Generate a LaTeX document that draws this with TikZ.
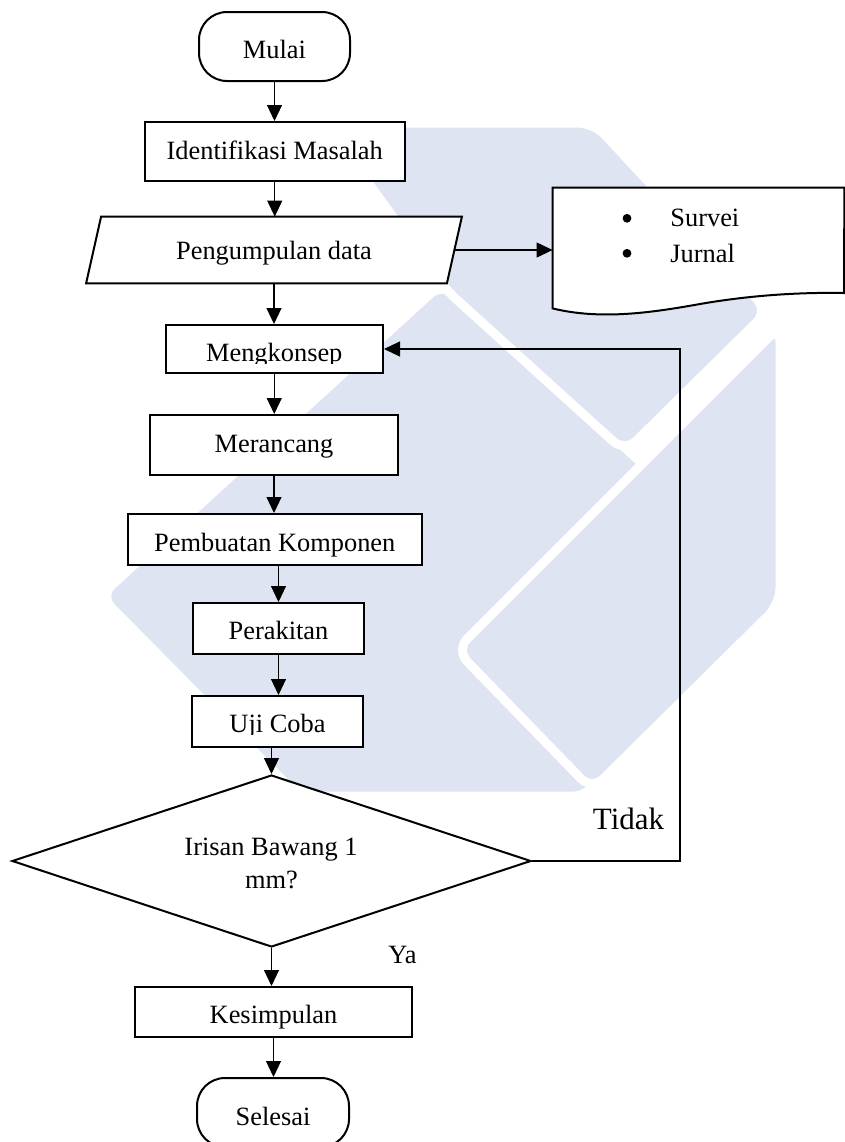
\documentclass[tikz,border=0pt]{standalone}
\usepackage{fontspec}
\setmainfont{Liberation Serif}
\usetikzlibrary{arrows.meta,shapes.geometric,calc}
\definecolor{wm}{RGB}{222,228,242}
\begin{document}
\begin{tikzpicture}[x=0.5pt,y=-0.5pt,
  box/.style={draw, line width=1pt, fill=white, inner sep=0pt, rectangle},
  term/.style={box, rounded corners=14pt},
  ghost/.style={inner sep=0pt, draw=none, rectangle},
  arr/.style={line width=0.55pt, -{Triangle[length=8pt,width=7.5pt]}},
  txt/.style={inner sep=0pt, font=\fontsize{13.2pt}{16pt}\selectfont, anchor=base},
  bigtxt/.style={inner sep=0pt, font=\fontsize{15.5pt}{18pt}\selectfont, anchor=base},
  bulletdot/.style={circle, fill=black, draw=none, inner sep=0pt, minimum size=4.4pt},
  face/.style={fill=wm, draw=white, line width=4.5pt, rounded corners=8pt, line join=round}]

\fill[white] (0,0) rectangle (845,1142);
\useasboundingbox (0,0) rectangle (845,1142);

% watermark
\path[face] (100,596) -- (442,283) -- (705,520) -- (590,796) -- (298,796) -- cycle;
\path[face] (325,123) -- (594,123) -- (768,311) -- (625,452) -- (445,289) -- cycle;
\path[face] (780,326) -- (780,604) -- (592,790) -- (456,650) -- cycle;

% nodes
\node[term, minimum width=75.5pt, minimum height=34.5pt] (mulai) at (274.5,46.5) {};
\node[txt] (tmulai) at (274.5,58.3) {Mulai};

\node[box, minimum width=130.25pt, minimum height=29.5pt] (idm) at (274.75,151.5) {};
\node[txt] (tidm) at (274.75,159.3) {Identifikasi Masalah};

\node[ghost, minimum width=180pt, minimum height=33pt] (pd) at (274,250) {};
\draw[line width=1pt, fill=white] ($(pd.north west)+(7.5,0)$) -- ($(pd.north east)+(7.5,0)$)
   -- ($(pd.south east)+(-7.5,0)$) -- ($(pd.south west)+(-7.5,0)$) -- cycle;
\node[txt] (tpd) at (274,259.3) {Pengumpulan data};

\node[ghost, minimum width=145.5pt, minimum height=60pt] (doc) at (698.5,248) {};
\draw[line width=1pt, fill=white] (doc.north west) -- (doc.north east) -- (844,293)
   .. controls (790,292) and (740,297) .. (700,304)
   .. controls (650,313) and (600,320) .. (doc.south west) -- cycle;
\node[bulletdot] (b1) at (627,218.3) {};
\node[txt, anchor=base west] (ts) at (670,226) {Survei};
\node[bulletdot] (b2) at (627,253.3) {};
\node[txt, anchor=base west] (tj) at (670,262) {Jurnal};

\node[box, minimum width=108.75pt, minimum height=24pt] (mk) at (274.25,349) {};
\begin{scope}
  \clip (166,326) rectangle (382,363.5);
  \node[txt] (tmk) at (274.25,361.7) {Mengkonsep};
\end{scope}

\node[box, minimum width=124pt, minimum height=30pt] (mr) at (274,445) {};
\node[txt] (tmr) at (274,452) {Merancang};

\node[box, minimum width=146.75pt, minimum height=25.5pt] (pb) at (274.75,539.5) {};
\node[txt] (tpb) at (274.75,551) {Pembuatan Komponen};

\node[box, minimum width=85.5pt, minimum height=25.5pt] (pk) at (278.5,628.5) {};
\node[txt] (tpk) at (278.5,639) {Perakitan};

\node[box, minimum width=85.5pt, minimum height=25.5pt] (uc) at (277.5,721.5) {};
\begin{scope}
  \clip (193,697) rectangle (362,734);
  \node[txt] (tuc) at (277.5,732.7) {Uji Coba};
\end{scope}

\node[draw, line width=1pt, fill=white, shape=diamond, inner sep=0pt,
      minimum width=259.5pt, minimum height=86pt] (dia) at (271.5,861) {};
\node[txt] (td1) at (271,855.7) {Irisan Bawang 1};
\node[txt] (td2) at (271.5,888) {mm?};

\node[box, minimum width=138.5pt, minimum height=25pt] (ks) at (273.5,1012) {};
\node[txt] (tks) at (273.5,1023) {Kesimpulan};

\node[term, minimum width=76pt, minimum height=34.5pt] (sl) at (273,1112.5) {};
\node[txt] (tsl) at (273,1125) {Selesai};

\node[bigtxt] (tidak) at (628.5,829) {Tidak};
\node[txt, anchor=base west] (ya) at (388,963) {Ya};

\coordinate (fb) at (680,600);

% connectors
\draw[arr] (mulai.south) -- (mulai.south |- idm.north);
\draw[arr] (idm.south) -- (idm.south |- pd.north);
\draw[arr] (pd.east) -- (pd.east -| doc.west);
\draw[arr] (pd.south) -- (pd.south |- mk.north);
\draw[arr] (mk.south) -- (mk.south |- mr.north);
\draw[arr] (mr.south) -- (mr.south |- pb.north);
\draw[arr] (pb.south -| pk.north) -- (pk.north);
\draw[arr] (pk.south) -- (pk.south |- uc.north);
\draw[arr] (uc.south -| dia.north) -- (dia.north);
\draw[arr] (dia.south) -- (dia.south |- ks.north);
\draw[arr] (ks.south) -- (ks.south |- sl.north);
\draw[arr] (dia.east) -- (dia.east -| fb) |- (mk.east);
\end{tikzpicture}
\end{document}
